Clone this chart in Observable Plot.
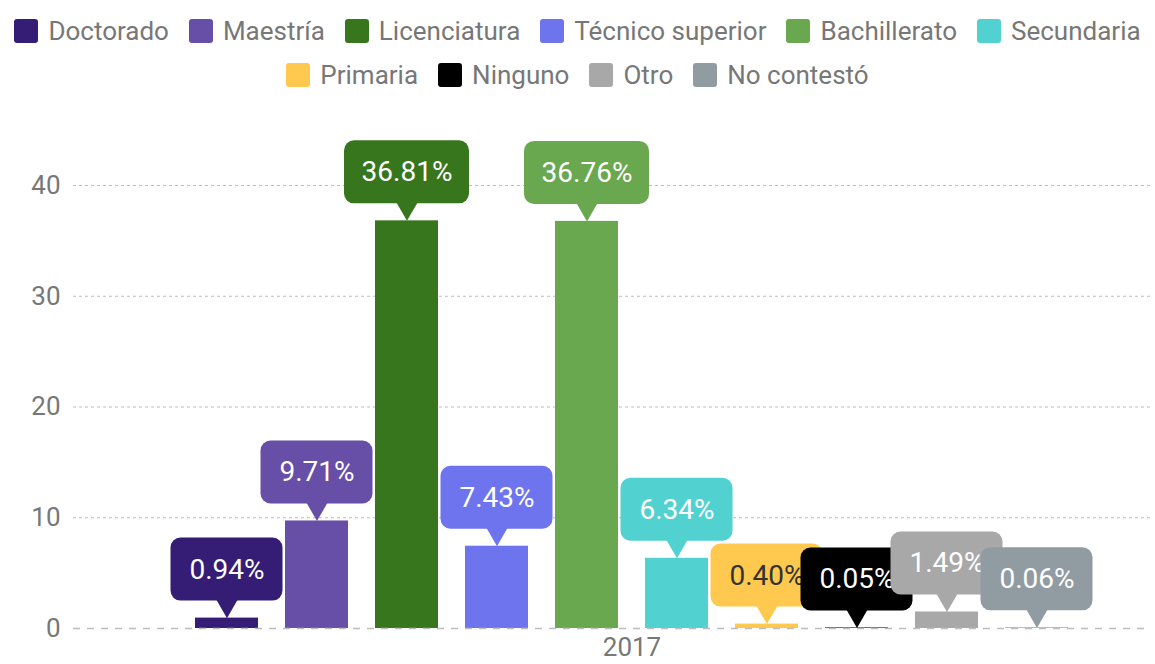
<!DOCTYPE html>
<html>
<head>
<meta charset="utf-8">
<script src="https://cdn.jsdelivr.net/npm/d3@7"></script>
<script src="https://cdn.jsdelivr.net/npm/@observablehq/plot@0.6"></script>
<style>
  body { margin: 0; background: #fff; font-family: Roboto, "Liberation Sans", Arial, sans-serif; }
  #legend { height: 100px; box-sizing: border-box; padding-top: 9px; }
  .row { display: flex; justify-content: center; height: 44px; align-items: center; white-space: nowrap; }
  .item { display: flex; align-items: center; margin: 0 10px; font-size: 26px; color: #777; white-space: nowrap; flex: none; }
  .sw { width: 24px; height: 24px; border-radius: 3px; margin-right: 10px; flex: none; }
</style>
</head>
<body>
<div id="legend"></div>
<div id="chart"></div>
<script>
const year = "2017";
const categories = ["Doctorado", "Maestría", "Licenciatura", "Técnico superior", "Bachillerato", "Secundaria", "Primaria", "Ninguno", "Otro", "No contestó"];
const values = [0.94, 9.71, 36.81, 7.43, 36.76, 6.34, 0.40, 0.05, 1.49, 0.06];
const colors = ["#351c75", "#674ea7", "#38761d", "#6d74ee", "#6aa84f", "#51d2d0", "#ffc94f", "#000000", "#a8a8a8", "#909ca2"];
const labelTextColors = ["#fff", "#fff", "#fff", "#fff", "#fff", "#fff", "#333", "#fff", "#fff", "#fff"];
const yTicks = [0, 10, 20, 30, 40];

const data = categories.map((c, i) => ({cat: c, value: values[i], label: values[i].toFixed(2) + "%", tc: labelTextColors[i]}));

// legend
const legend = document.getElementById("legend");
[categories.slice(0, 6), categories.slice(6)].forEach(rowCats => {
  const row = document.createElement("div");
  row.className = "row";
  rowCats.forEach(c => {
    const it = document.createElement("div");
    it.className = "item";
    const sw = document.createElement("span");
    sw.className = "sw";
    sw.style.background = colors[categories.indexOf(c)];
    it.appendChild(sw);
    it.appendChild(document.createTextNode(c));
    row.appendChild(it);
  });
  legend.appendChild(row);
});

const labelMarks = data.flatMap(d => {
  const inset = d.label.length >= 6 ? -31 : -24.5;
  return [
    Plot.barY([d], {x: "cat", y1: "value", y2: "value", fill: "cat", insetTop: -80, insetBottom: 17, insetLeft: inset, insetRight: inset, rx: 10}),
    Plot.dot([d], {x: "cat", y: "value", fill: "cat", symbol: "triangle", r: 8, rotate: 180, dy: -12.4}),
    Plot.text([d], {x: "cat", y: "value", text: "label", dy: -48.5, fill: d.tc, fontSize: 28})
  ];
});

const chart = Plot.plot({
  width: 1155,
  height: 564,
  marginTop: 85,
  marginBottom: 36,
  marginLeft: 73,
  marginRight: 5,
  style: {fontFamily: "Roboto, 'Liberation Sans', Arial, sans-serif", background: "#fff", overflow: "visible"},
  x: {domain: categories, range: [181.5, 1081.5], paddingInner: 0.3, paddingOuter: 0.15, axis: null},
  y: {domain: [0, 40], axis: null},
  color: {domain: categories, range: colors},
  marks: [
    Plot.ruleY(yTicks.filter(t => t !== 0), {stroke: "#bdbdbd", strokeDasharray: "3,3"}),
    Plot.axisY({ticks: yTicks, tickSize: 0, tickPadding: 13, fontSize: 26, fill: "#777", label: null}),
    Plot.barY(data, {x: "cat", y: "value", fill: "cat"}),
    Plot.ruleY([0], {stroke: "#bdbdbd", strokeWidth: 1.5, strokeDasharray: "7,7"}),
    ...labelMarks,
    Plot.text([year], {x: () => categories[4], frameAnchor: "bottom", dx: 45, dy: 27, fill: "#777", fontSize: 26})
  ]
});
document.getElementById("chart").appendChild(chart);
</script>
</body>
</html>
